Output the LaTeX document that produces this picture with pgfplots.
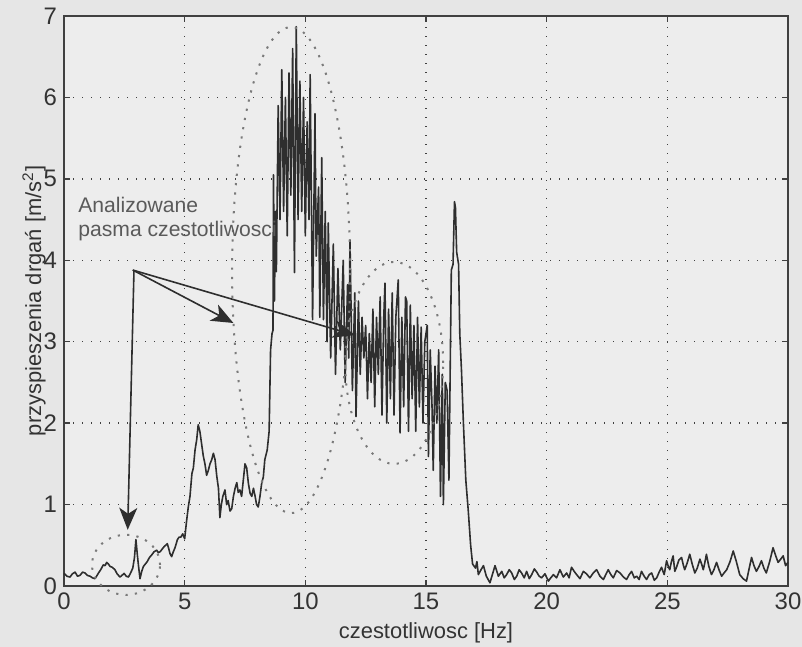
\documentclass[border=0pt]{standalone}
\usepackage{fontspec}
\setmainfont{Liberation Sans}
\usepackage{pgfplots}
\pgfplotsset{compat=1.18}
\usetikzlibrary{arrows.meta}
\definecolor{bg}{HTML}{E6E6E6}
\definecolor{axbg}{HTML}{EDEDED}
\definecolor{ln}{HTML}{2E2E2E}
\definecolor{gridc}{HTML}{404040}
\definecolor{ann}{HTML}{5A5A5A}
\definecolor{ell}{HTML}{7A7A7A}
\begin{document}
\begin{tikzpicture}
\fill[bg] (-32bp,-30.5bp) rectangle (369bp,293bp);
\fill[axbg] (0,0) rectangle (362bp,285bp);
\begin{axis}[
  at={(0,0)}, anchor=origin,
  scale only axis, width=362bp, height=285bp,
  xmin=0, xmax=30, ymin=0, ymax=7,
  xtick={0,5,10,15,20,25,30}, ytick={0,1,2,3,4,5,6,7},
  grid=major,
  major grid style={gridc, line width=0.65bp, dash pattern=on 0.7bp off 3.8bp},
  axis line style={draw=black!75, line width=0.9bp},
  tick style={black!75, line width=0.7bp},
  tick align=inside, major tick length=3bp,
  ticklabel style={font=\fontsize{12}{13}\selectfont, text=black!80},
  /pgf/number format/assume math mode=true,
  xlabel={czestotliwosc [Hz]},
  ylabel={przyspieszenia drgań [m/s\textsuperscript{2}]},
  label style={font=\fontsize{11}{13}\selectfont, text=black!80},
  xlabel style={at={(axis description cs:0.5,-0.0825)}, anchor=center},
  ylabel style={at={(axis description cs:-0.0414,0.5)}, anchor=center},
  clip=false,
]
\addplot[ln, line width=0.8bp, mark=none, line join=round] coordinates {
(0,0.155)(0.12,0.12)(0.25,0.11)(0.35,0.15)(0.46,0.17)(0.56,0.12)(0.66,0.13)(0.77,0.17)(0.87,0.16)(0.97,0.13)(1.08,0.12)(1.18,0.1)(1.28,0.09)(1.35,0.12)(1.42,0.155)(1.52,0.2)(1.63,0.26)(1.7,0.25)(1.77,0.29)(1.84,0.27)(1.91,0.24)(2.0,0.23)(2.11,0.2)(2.2,0.15)(2.32,0.11)(2.4,0.13)(2.49,0.155)(2.58,0.12)(2.67,0.11)(2.76,0.16)(2.85,0.22)(2.92,0.35)(2.98,0.57)(3.04,0.38)(3.09,0.24)(3.15,0.09)(3.22,0.18)(3.29,0.24)(3.37,0.27)(3.45,0.30)(3.54,0.35)(3.63,0.38)(3.73,0.42)(3.84,0.44)(3.91,0.41)(3.98,0.42)(4.06,0.45)(4.14,0.48)(4.21,0.5)(4.28,0.52)(4.34,0.46)(4.39,0.40)(4.46,0.36)(4.53,0.42)(4.6,0.47)(4.7,0.57)(4.77,0.6)(4.84,0.6)(4.92,0.64)(5.0,0.58)(5.08,0.8)(5.15,0.97)(5.22,1.1)(5.3,1.38)
(5.36,1.45)(5.43,1.67)(5.5,1.8)(5.56,1.98)(5.63,1.9)(5.70,1.75)(5.77,1.6)(5.84,1.5)(5.91,1.36)(5.98,1.42)(6.05,1.5)(6.12,1.55)(6.19,1.63)(6.26,1.55)(6.33,1.35)(6.40,1.2)(6.46,0.84)(6.52,1.0)(6.58,1.1)(6.67,1.18)(6.74,1.0)(6.8,1.05)(6.88,0.92)(6.95,0.95)(7.02,1.1)(7.09,1.2)(7.16,1.27)(7.22,1.15)(7.29,1.18)(7.36,1.1)(7.43,1.3)(7.5,1.5)(7.57,1.45)(7.64,1.26)(7.71,1.14)(7.78,1.1)(7.85,1.2)(7.92,1.1)(7.98,1.0)(8.05,0.97)(8.12,1.1)(8.19,1.26)(8.26,1.34)(8.32,1.55)(8.42,1.67)(8.5,1.9)(8.56,2.9)(8.62,3.1)(8.66,3.14)
(8.68,5.05)(8.72,3.5)(8.76,4.6)(8.80,3.86)(8.875,5.9)(8.95,4.5)(9.025,6.34)(9.10,4.6)(9.175,6.0)(9.25,4.3)(9.325,6.3)(9.40,4.8)(9.475,6.6)(9.55,3.85)(9.625,6.87)(9.70,4.5)(9.775,6.2)(9.85,4.6)(9.925,6.0)(10.00,4.3)(10.075,5.7)(10.15,4.5)(10.20,6.28)(10.30,3.27)(10.40,5.8)(10.45,4.05)(10.55,4.9)(10.60,3.3)(10.68,5.26)(10.75,3.27)(10.825,4.6)(10.90,3.0)(10.95,4.46)(11.05,2.8)(11.16,4.2)(11.25,2.6)(11.35,3.9)(11.45,2.9)(11.57,4.0)(11.65,2.5)(11.75,3.7)(11.80,2.8)(11.85,4.25)(11.95,2.4)(12.05,3.6)(12.10,2.08)(12.2,3.5)(12.275,2.6)(12.35,3.3)(12.425,2.8)(12.5,3.2)(12.575,2.3)(12.65,3.1)(12.725,2.5)(12.8,3.4)(12.875,2.2)(12.95,3.3)(13.025,2.6)(13.1,3.55)(13.175,2.1)(13.25,3.3)(13.3,3.72)(13.375,2.0)(13.45,3.4)(13.525,2.3)(13.6,3.6)(13.675,2.1)(13.75,3.3)(13.85,3.76)(13.925,1.88)(14.0,3.3)(14.075,2.2)(14.15,3.55)(14.2,3.5)(14.275,1.9)(14.35,3.45)(14.425,2.3)(14.5,3.2)(14.575,1.9)(14.65,3.3)(14.725,2.2)(14.8,3.18)(14.875,2.0)(14.95,3.0)(15.05,3.2)(15.1,1.59)(15.175,2.9)(15.25,2.2)(15.3,1.42)(15.375,2.7)(15.45,2.0)(15.525,2.9)(15.6,1.1)(15.675,2.6)(15.72,1.0)(15.8,2.5)(15.875,2.4)(15.95,1.3)
(16.05,3.88)(16.12,3.95)(16.18,4.72)(16.22,4.65)(16.27,4.1)(16.35,3.95)(16.4,3.1)(16.47,2.65)(16.55,2.0)(16.65,1.3)(16.75,0.93)(16.85,0.5)(16.93,0.27)
(17.05,0.22)(17.11,0.3)(17.17,0.14)(17.28,0.2)(17.38,0.25)(17.5,0.12)(17.65,0.04)(17.76,0.15)(17.86,0.25)(18.0,0.12)(18.14,0.18)(18.24,0.1)(18.34,0.14)(18.45,0.2)(18.55,0.16)(18.66,0.08)(18.76,0.12)(18.86,0.2)(18.96,0.16)(19.07,0.1)(19.17,0.18)(19.28,0.09)(19.38,0.14)(19.49,0.21)(19.59,0.17)(19.69,0.12)(19.79,0.10)(19.93,0.15)(20.07,0.06)(20.17,0.1)(20.28,0.14)(20.41,0.1)(20.55,0.2)(20.69,0.11)(20.83,0.16)(20.93,0.1)(21.03,0.23)(21.14,0.18)(21.24,0.14)(21.38,0.09)(21.52,0.18)(21.65,0.15)(21.79,0.1)(21.93,0.16)(22.07,0.2)(22.21,0.12)(22.35,0.08)(22.45,0.14)(22.55,0.2)(22.66,0.14)(22.76,0.1)(22.9,0.19)(23.04,0.16)(23.18,0.11)(23.31,0.08)(23.42,0.14)(23.52,0.18)(23.63,0.1)(23.73,0.12)(23.83,0.08)(23.93,0.18)(24.04,0.12)(24.14,0.08)(24.25,0.14)(24.35,0.16)(24.46,0.07)(24.56,0.1)(24.66,0.17)(24.76,0.23)(24.87,0.14)(24.97,0.31)(25.04,0.24)(25.1,0.2)(25.17,0.3)(25.24,0.37)(25.31,0.18)(25.38,0.23)(25.48,0.32)(25.59,0.35)(25.66,0.26)(25.72,0.2)(25.82,0.28)(25.93,0.39)(26.03,0.27)(26.14,0.16)(26.24,0.22)(26.35,0.33)(26.42,0.27)(26.49,0.2)(26.55,0.28)(26.62,0.39)(26.72,0.24)(26.83,0.14)(26.93,0.2)(27.04,0.29)(27.14,0.2)(27.25,0.12)(27.35,0.16)(27.46,0.2)(27.6,0.3)(27.73,0.43)(27.86,0.3)(28.0,0.14)(28.14,0.09)(28.28,0.06)(28.38,0.2)(28.49,0.35)(28.59,0.25)(28.69,0.18)(28.8,0.24)(28.9,0.31)(29.0,0.22)(29.1,0.16)(29.24,0.3)(29.38,0.47)(29.48,0.38)(29.59,0.29)(29.7,0.33)(29.8,0.37)(29.9,0.25)(30,0.29)
};
% annotations
\draw[ell, line width=1bp, dash pattern=on 1.1bp off 3.6bp] (axis cs:9.41,3.88) ellipse [x radius=29.5bp, y radius=121.5bp];
\draw[ell, line width=1bp, dash pattern=on 1.1bp off 3.6bp] (axis cs:13.68,2.74) ellipse [x radius=24.5bp, y radius=50.5bp];
\draw[ell, line width=1bp, dash pattern=on 1.1bp off 3.6bp] (axis cs:2.57,0.26) ellipse [x radius=17bp, y radius=15bp];
\draw[ln, line width=0.8bp, -{Stealth[length=11bp,width=9bp,inset=3bp]}] (axis cs:2.9,3.88) -- (axis cs:2.64,0.69);
\draw[ln, line width=0.8bp, -{Stealth[length=11bp,width=9bp,inset=3bp]}] (axis cs:2.85,3.88) -- (axis cs:7.02,3.23);
\draw[ln, line width=0.8bp, -{Stealth[length=11bp,width=9bp,inset=3bp]}] (axis cs:2.85,3.88) -- (axis cs:12.06,3.08);
\node[anchor=base west, text=ann, font=\fontsize{10.6}{13}\selectfont, inner sep=0pt] at (axis cs:0.58,4.59) {Analizowane};
\node[anchor=base west, text=ann, font=\fontsize{10.6}{13}\selectfont, inner sep=0pt] at (axis cs:0.58,4.29) {pasma czestotliwosci};
\end{axis}
\pgfresetboundingbox
\useasboundingbox (-32bp,-30.5bp) rectangle (369bp,293bp);
\end{tikzpicture}
\end{document}
